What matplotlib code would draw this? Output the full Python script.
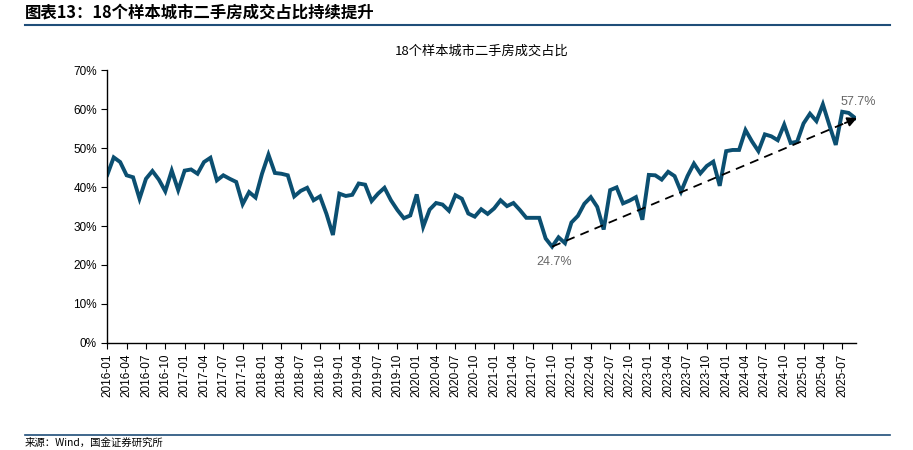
import numpy as np
import pandas as pd
import matplotlib.pyplot as plt
from matplotlib.lines import Line2D

plt.rcParams['font.family'] = ['Liberation Sans', 'Noto Sans CJK SC', 'DejaVu Sans']

# 月份：2016-01 到 2025-09
months = pd.period_range('2016-01', '2025-09', freq='M').strftime('%Y-%m').tolist()

# 18个样本城市二手房成交占比(%)，从图上读出来的
share = [
    43.1, 47.6, 46.4, 43.0, 42.5, 37.0, 42.1, 44.1, 41.9, 38.9,
    44.2, 39.2, 44.2, 44.5, 43.4, 46.4, 47.5, 41.7, 43.0, 42.1,
    41.3, 35.6, 38.7, 37.3, 43.4, 48.3, 43.6, 43.4, 43.0, 37.6,
    39.0, 39.8, 36.6, 37.6, 33.1, 27.7, 38.3, 37.7, 38.0, 40.9,
    40.6, 36.4, 38.3, 39.8, 36.6, 34.1, 32.0, 32.7, 38.1, 29.8,
    34.2, 35.9, 35.5, 33.9, 37.9, 37.0, 33.2, 32.4, 34.3, 33.1,
    34.5, 36.6, 35.1, 35.9, 34.1, 32.1, 32.1, 32.1, 26.8, 24.7,
    27.1, 25.6, 30.9, 32.6, 35.7, 37.4, 34.9, 29.1, 39.2, 39.9,
    35.8, 36.5, 37.4, 31.6, 43.1, 43.0, 41.9, 43.9, 42.8, 38.8,
    42.8, 46.0, 43.5, 45.4, 46.5, 40.3, 49.2, 49.5, 49.5, 54.6,
    51.7, 49.2, 53.5, 53.0, 52.0, 56.0, 51.3, 51.6, 56.3, 58.8,
    56.9, 61.2, 55.9, 50.8, 59.3, 59.0, 57.7,
]

low_month, high_month = '2021-10', '2025-09'

x = np.arange(len(months))
i_low = months.index(low_month)
i_high = months.index(high_month)

fig = plt.figure(figsize=(9.13, 4.5), dpi=100)
ax = fig.add_axes([0.1175, 0.2378, 0.8205, 0.6066])

ax.plot(x, share, color='#0b4f71', lw=2.8, solid_joinstyle='miter')

# 虚线箭头，从最低点到最新值：虚线 + 实心箭头
x0, y0 = x[i_low], share[i_low]
x1, y1 = x[i_high] + 0.3, share[i_high]
ax.plot([x0, x1 - 0.06 * (x1 - x0) / 10], [y0, y1 - 0.06 * (y1 - y0) / 10],
        color='black', lw=1.3, ls=(0, (5, 3.5)), clip_on=False)
ax.annotate('', xy=(x1, y1), xytext=(x1 - 0.04 * (x1 - x0), y1 - 0.04 * (y1 - y0)),
            annotation_clip=False,
            arrowprops=dict(arrowstyle='-|>', color='black', lw=1.3,
                            mutation_scale=14, shrinkA=0, shrinkB=0))
ax.text(x0 + 0.3, y0 - 2.5, f'{share[i_low]:.1f}%', ha='center', va='top',
        fontsize=9, color='#666666')
ax.text(x[i_high] + 0.5, y1 + 2.6, f'{share[i_high]:.1f}%', ha='center', va='bottom',
        fontsize=9, color='#666666')

ax.set_xlim(0, len(months) - 1 + 0.2)
ax.set_ylim(0, 70)
ax.set_yticks(range(0, 71, 10))
ax.set_yticklabels([f'{v}%' for v in range(0, 71, 10)])
ax.set_xticks(x[::3])
ax.set_xticklabels(months[::3], rotation=90)
ax.tick_params(axis='both', labelsize=8.5, length=4, width=0.8, direction='out', colors='black')
for s in ['top', 'right']:
    ax.spines[s].set_visible(False)
for s in ['left', 'bottom']:
    ax.spines[s].set_linewidth(1.0)

ax.set_title('18个样本城市二手房成交占比', fontsize=9.5, pad=11,
             family=['Noto Sans CJK SC', 'DejaVu Sans'])

# 页眉和页脚
fig.text(25 / 913, 1 - 12 / 450, '图表13：18个样本城市二手房成交占比持续提升', ha='left', va='center',
         fontsize=11.8, fontweight='bold', style='italic', color='black',
         family=['Noto Sans CJK SC', 'DejaVu Sans'])
fig.add_artist(Line2D([25 / 913, 890 / 913], [1 - 25 / 450, 1 - 25 / 450],
                      color='#1f4e79', lw=1.5, transform=fig.transFigure))
fig.add_artist(Line2D([25 / 913, 890 / 913], [1 - 435 / 450, 1 - 435 / 450],
                      color='#1f4e79', lw=1.2, transform=fig.transFigure))
fig.text(25 / 913, 1 - 443 / 450, '来源：Wind，国金证券研究所', ha='left', va='center',
         fontsize=7.5, color='black', family=['Noto Sans CJK SC', 'DejaVu Sans'])

fig.savefig('out.png', dpi=100)
